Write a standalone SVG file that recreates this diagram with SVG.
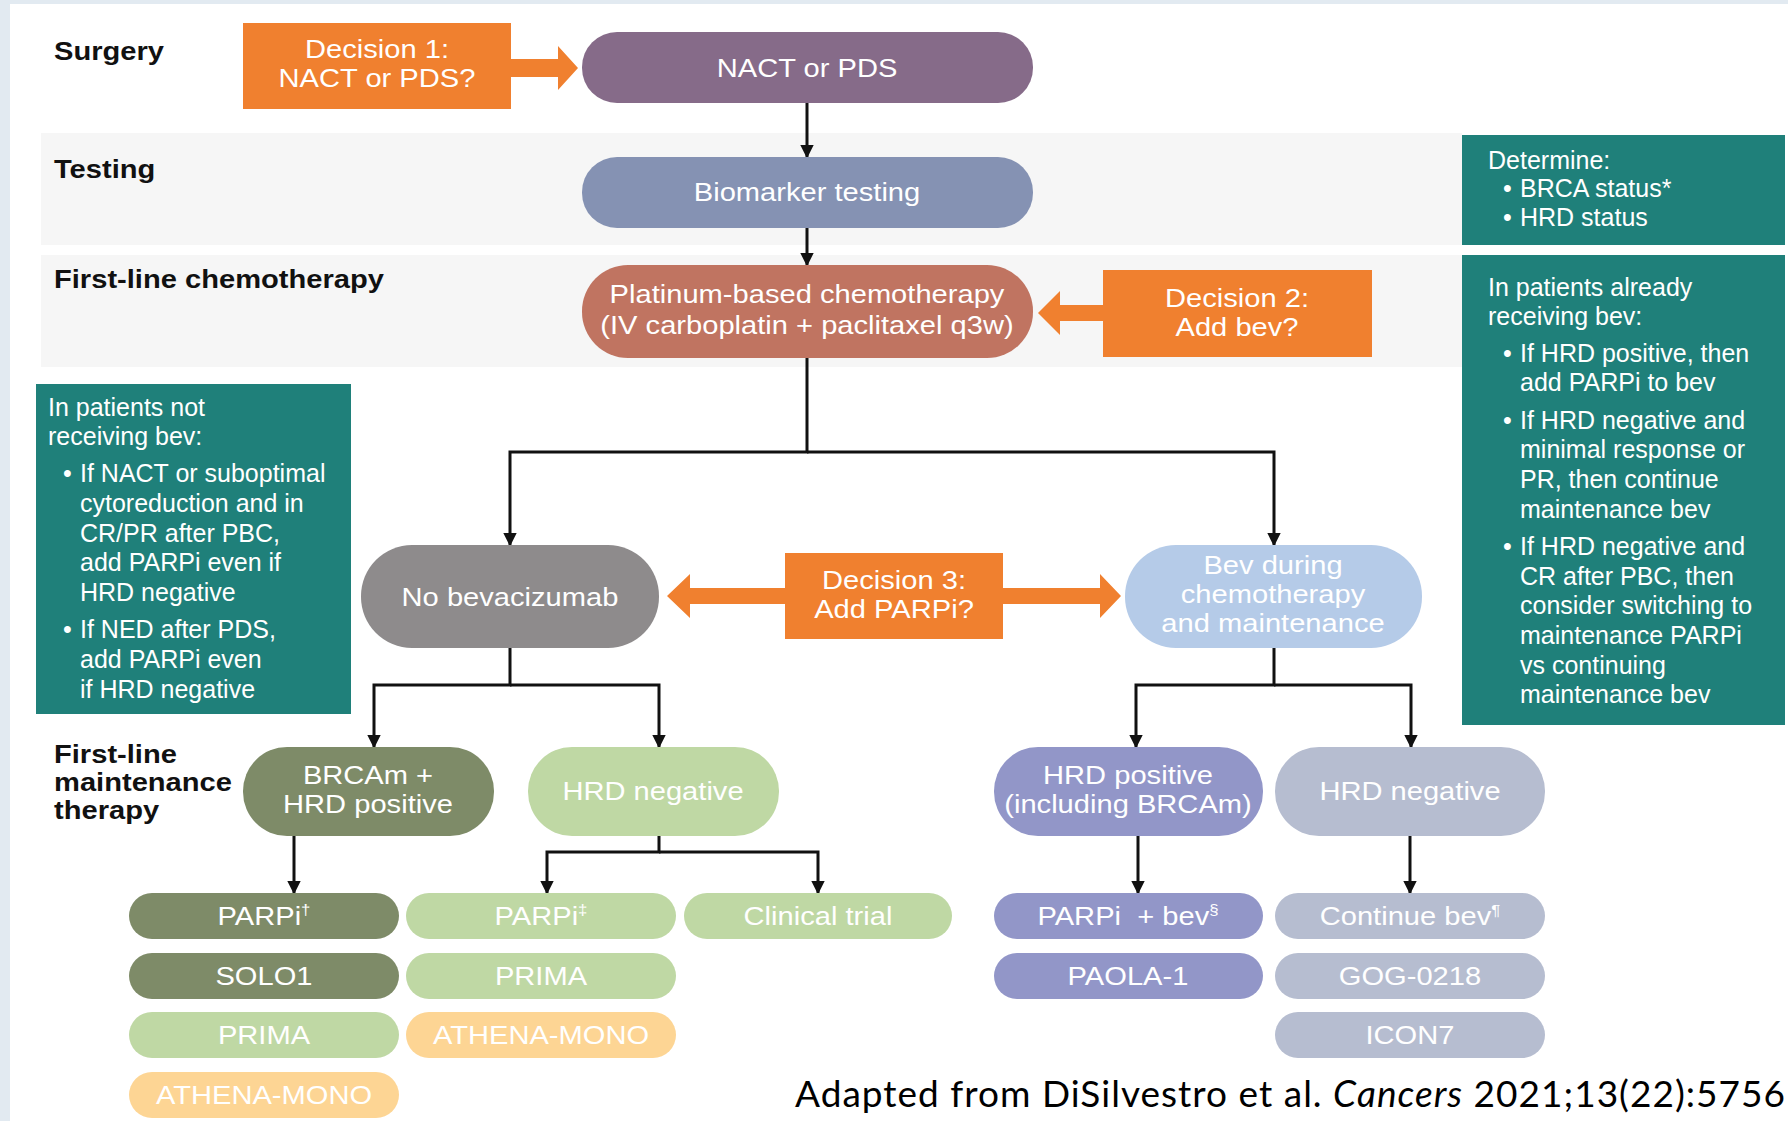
<svg xmlns="http://www.w3.org/2000/svg" width="1788" height="1121" viewBox="0 0 1788 1121">
<defs>
<marker id="ah" viewBox="0 0 10 10" refX="9" refY="5" markerWidth="4.6" markerHeight="4.6" orient="auto"><path d="M0,0 L10,5 L0,10 z" fill="#111"/></marker>
</defs>
<style>
.lbl{font-family:"Liberation Sans",Arial,sans-serif;font-weight:bold;font-size:26px;fill:#111}
.pt{font-family:"Liberation Sans",Arial,sans-serif;font-size:26px;fill:#fff;text-anchor:middle}
.tt{font-family:"Liberation Sans",Arial,sans-serif;font-size:25px;fill:#fff}
.sup{font-size:15px}
.conn{fill:none;stroke:#111;stroke-width:3;marker-end:url(#ah)}
.dec{fill:#f0802f}
.teal{fill:#1f807a}
.band{fill:#f6f6f6}
.olive{fill:#7e8b68}
.lgreen{fill:#bfd8a4}
.peach{fill:#fdd594}
.peri{fill:#9296c8}
.gblue{fill:#b6bdd0}
.cap{font-family:Lato,"Liberation Sans",sans-serif;font-size:37px;fill:#000}
</style>
<rect width="1788" height="1121" fill="#fff"/>
<rect x="0" y="0" width="1788" height="4" fill="#e2eaf1"/>
<rect x="0" y="0" width="10" height="1121" fill="#e2eaf1"/>
<rect class="band" x="41" y="133" width="1421" height="112"/>
<rect class="band" x="41" y="255" width="1421" height="112"/>

<g id="labels" transform="translate(54 0) scale(1.12 1)">
<text class="lbl" x="0" y="60">Surgery</text>
<text class="lbl" x="0" y="178">Testing</text>
<text class="lbl" x="0" y="288">First-line chemotherapy</text>
<text class="lbl" x="0" y="763">First-line</text>
<text class="lbl" x="0" y="791">maintenance</text>
<text class="lbl" x="0" y="819">therapy</text>
</g>

<g id="connectors">
<path class="conn" d="M807,103 V157"/>
<path class="conn" d="M807,228 V265"/>
<path class="conn" d="M807,358 V452 H510 V545"/>
<path class="conn" d="M807,452 H1274 V545"/>
<path class="conn" d="M510,648 V685 H374 V747"/>
<path class="conn" d="M510,685 H659 V747"/>
<path class="conn" d="M1274,648 V685 H1136 V747"/>
<path class="conn" d="M1274,685 H1411 V747"/>
<path class="conn" d="M294,836 V893"/>
<path class="conn" d="M659,836 V852 H547 V893"/>
<path class="conn" d="M659,852 H818 V893"/>
<path class="conn" d="M1138,836 V893"/>
<path class="conn" d="M1410,836 V893"/>
<path class="dec" d="M511,59 H558 V46 L578,68 L558,90 V77 H511 Z"/>
<path class="dec" d="M1103,305 H1060 V291 L1038,313 L1060,335 V321 H1103 Z"/>
<path class="dec" d="M785,588 H690 V574 L667,596 L690,618 V604 H785 Z"/>
<path class="dec" d="M1003,588 H1100 V574 L1121,596 L1100,618 V604 H1003 Z"/>
</g>

<g id="decision1"><rect class="dec" x="243" y="23" width="268" height="86"/>
<g transform="translate(377 0) scale(1.12 1)"><text class="pt" x="0" y="58">Decision 1:</text><text class="pt" x="0" y="87">NACT or PDS?</text></g></g>

<g id="nact"><rect x="582" y="32" width="451" height="71" rx="35" fill="#866b89"/>
<g transform="translate(807 0) scale(1.12 1)"><text class="pt" x="0" y="77">NACT or PDS</text></g></g>

<g id="biomarker"><rect x="582" y="157" width="451" height="71" rx="35" fill="#8592b3"/>
<g transform="translate(807 0) scale(1.12 1)"><text class="pt" x="0" y="201">Biomarker testing</text></g></g>

<g id="platinum"><rect x="582" y="265" width="451" height="93" rx="46" fill="#c07461"/>
<g transform="translate(807 0) scale(1.12 1)"><text class="pt" x="0" y="303">Platinum-based chemotherapy</text>
<text class="pt" x="0" y="334">(IV carboplatin + paclitaxel q3w)</text></g></g>

<g id="decision2"><rect class="dec" x="1103" y="270" width="269" height="87"/>
<g transform="translate(1237 0) scale(1.12 1)"><text class="pt" x="0" y="307">Decision 2:</text><text class="pt" x="0" y="336">Add bev?</text></g></g>

<g id="determine"><rect class="teal" x="1462" y="135" width="323" height="110"/>
<text class="tt" x="1488" y="169">Determine:</text>
<text class="tt" x="1503" y="197">•</text><text class="tt" x="1520" y="197">BRCA status*</text>
<text class="tt" x="1503" y="226">•</text><text class="tt" x="1520" y="226">HRD status</text></g>

<g id="bev-note"><rect class="teal" x="1462" y="255" width="323" height="470"/>
<text class="tt" x="1488" y="296">In patients already</text>
<text class="tt" x="1488" y="325">receiving bev:</text>
<text class="tt" x="1503" y="362">•</text><text class="tt" x="1520" y="362">If HRD positive, then</text>
<text class="tt" x="1520" y="391">add PARPi to bev</text>
<text class="tt" x="1503" y="429">•</text><text class="tt" x="1520" y="429">If HRD negative and</text>
<text class="tt" x="1520" y="458">minimal response or</text>
<text class="tt" x="1520" y="488">PR, then continue</text>
<text class="tt" x="1520" y="518">maintenance bev</text>
<text class="tt" x="1503" y="555">•</text><text class="tt" x="1520" y="555">If HRD negative and</text>
<text class="tt" x="1520" y="585">CR after PBC, then</text>
<text class="tt" x="1520" y="614">consider switching to</text>
<text class="tt" x="1520" y="644">maintenance PARPi</text>
<text class="tt" x="1520" y="674">vs continuing</text>
<text class="tt" x="1520" y="703">maintenance bev</text></g>

<g id="nobev-note"><rect class="teal" x="36" y="384" width="315" height="330"/>
<text class="tt" x="48" y="416">In patients not</text>
<text class="tt" x="48" y="445">receiving bev:</text>
<text class="tt" x="63" y="482">•</text><text class="tt" x="80" y="482">If NACT or suboptimal</text>
<text class="tt" x="80" y="512">cytoreduction and in</text>
<text class="tt" x="80" y="542">CR/PR after PBC,</text>
<text class="tt" x="80" y="571">add PARPi even if</text>
<text class="tt" x="80" y="601">HRD negative</text>
<text class="tt" x="63" y="638">•</text><text class="tt" x="80" y="638">If NED after PDS,</text>
<text class="tt" x="80" y="668">add PARPi even</text>
<text class="tt" x="80" y="698">if HRD negative</text></g>

<g id="nobev"><rect x="361" y="545" width="298" height="103" rx="51" fill="#8e8b8c"/>
<g transform="translate(510 0) scale(1.12 1)"><text class="pt" x="0" y="606">No bevacizumab</text></g></g>

<g id="decision3"><rect class="dec" x="785" y="553" width="218" height="86"/>
<g transform="translate(894 0) scale(1.12 1)"><text class="pt" x="0" y="589">Decision 3:</text><text class="pt" x="0" y="618">Add PARPi?</text></g></g>

<g id="bev"><rect x="1125" y="545" width="297" height="103" rx="51" fill="#b5cbe8"/>
<g transform="translate(1273 0) scale(1.12 1)"><text class="pt" x="0" y="574">Bev during</text>
<text class="pt" x="0" y="603">chemotherapy</text>
<text class="pt" x="0" y="632">and maintenance</text></g></g>

<g id="brcam"><rect class="olive" x="243" y="747" width="251" height="89" rx="44"/>
<g transform="translate(368 0) scale(1.12 1)"><text class="pt" x="0" y="784">BRCAm +</text><text class="pt" x="0" y="813">HRD positive</text></g></g>

<g id="hrdneg-left"><rect class="lgreen" x="528" y="747" width="251" height="89" rx="44"/>
<g transform="translate(653 0) scale(1.12 1)"><text class="pt" x="0" y="800">HRD negative</text></g></g>

<g id="hrdpos"><rect class="peri" x="994" y="747" width="269" height="89" rx="44"/>
<g transform="translate(1128 0) scale(1.12 1)"><text class="pt" x="0" y="784">HRD positive</text><text class="pt" x="0" y="813">(including BRCAm)</text></g></g>

<g id="hrdneg-right"><rect class="gblue" x="1275" y="747" width="270" height="89" rx="44"/>
<g transform="translate(1410 0) scale(1.12 1)"><text class="pt" x="0" y="800">HRD negative</text></g></g>

<g id="parpi1"><rect class="olive" x="129" y="893" width="270" height="46" rx="23"/>
<g transform="translate(264 0) scale(1.12 1)"><text class="pt" x="0" y="925">PARPi<tspan class="sup" dy="-10">†</tspan></text></g></g>
<g id="solo1"><rect class="olive" x="129" y="953" width="270" height="46" rx="23"/>
<g transform="translate(264 0) scale(1.12 1)"><text class="pt" x="0" y="985">SOLO1</text></g></g>
<g id="prima1"><rect class="lgreen" x="129" y="1012" width="270" height="46" rx="23"/>
<g transform="translate(264 0) scale(1.12 1)"><text class="pt" x="0" y="1044">PRIMA</text></g></g>
<g id="athena1"><rect class="peach" x="129" y="1072" width="270" height="46" rx="23"/>
<g transform="translate(264 0) scale(1.12 1)"><text class="pt" x="0" y="1104">ATHENA-MONO</text></g></g>

<g id="parpi2"><rect class="lgreen" x="406" y="893" width="270" height="46" rx="23"/>
<g transform="translate(541 0) scale(1.12 1)"><text class="pt" x="0" y="925">PARPi<tspan class="sup" dy="-10">‡</tspan></text></g></g>
<g id="prima2"><rect class="lgreen" x="406" y="953" width="270" height="46" rx="23"/>
<g transform="translate(541 0) scale(1.12 1)"><text class="pt" x="0" y="985">PRIMA</text></g></g>
<g id="athena2"><rect class="peach" x="406" y="1012" width="270" height="46" rx="23"/>
<g transform="translate(541 0) scale(1.12 1)"><text class="pt" x="0" y="1044">ATHENA-MONO</text></g></g>

<g id="clinical"><rect class="lgreen" x="684" y="893" width="268" height="46" rx="23"/>
<g transform="translate(818 0) scale(1.12 1)"><text class="pt" x="0" y="925">Clinical trial</text></g></g>

<g id="parpibev"><rect class="peri" x="994" y="893" width="269" height="46" rx="23"/>
<g transform="translate(1128 0) scale(1.12 1)"><text class="pt" x="0" y="925" xml:space="preserve">PARPi  + bev<tspan class="sup" dy="-10">§</tspan></text></g></g>
<g id="paola"><rect class="peri" x="994" y="953" width="269" height="46" rx="23"/>
<g transform="translate(1128 0) scale(1.12 1)"><text class="pt" x="0" y="985">PAOLA-1</text></g></g>

<g id="contbev"><rect class="gblue" x="1275" y="893" width="270" height="46" rx="23"/>
<g transform="translate(1410 0) scale(1.12 1)"><text class="pt" x="0" y="925">Continue bev<tspan class="sup" dy="-10">¶</tspan></text></g></g>
<g id="gog"><rect class="gblue" x="1275" y="953" width="270" height="46" rx="23"/>
<g transform="translate(1410 0) scale(1.12 1)"><text class="pt" x="0" y="985">GOG-0218</text></g></g>
<g id="icon7"><rect class="gblue" x="1275" y="1012" width="270" height="46" rx="23"/>
<g transform="translate(1410 0) scale(1.12 1)"><text class="pt" x="0" y="1044">ICON7</text></g></g>

<text class="cap" x="795" y="1107" textLength="990">Adapted from DiSilvestro et al. <tspan font-style="italic">Cancers</tspan> 2021;13(22):5756</text>
</svg>
